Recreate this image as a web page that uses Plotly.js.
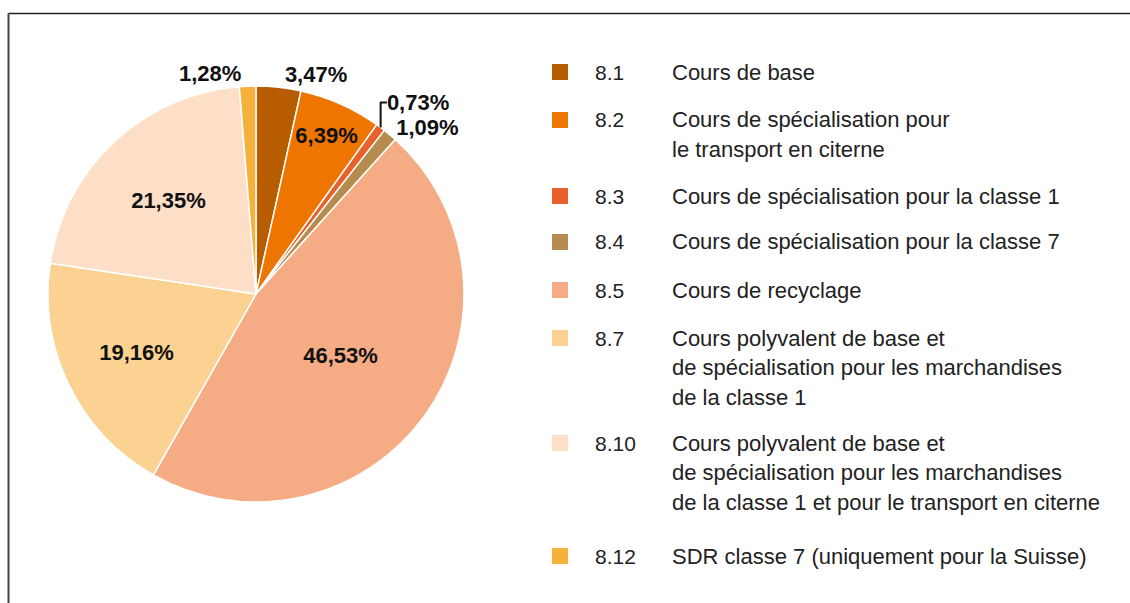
<!DOCTYPE html>
<html>
<head>
<meta charset="utf-8">
<script src="https://cdn.plot.ly/plotly-3.0.1.min.js"></script>
<style>
  html, body { margin: 0; padding: 0; background: #fff; }
  #chart { width: 1130px; height: 603px; }
</style>
</head>
<body>
<div id="chart"></div>
<script>
// share of courses by type (%)
var codes = ["8.1", "8.2", "8.3", "8.4", "8.5", "8.7", "8.10", "8.12"];
var shares = [3.47, 6.39, 0.73, 1.09, 46.53, 19.16, 21.35, 1.28];
var colors = ["#B85C00", "#EE7600", "#E8602A", "#B58B4E", "#F5AC84", "#FBD291", "#FCDFC6", "#F6B03C"];
var labelPos = ["outside", "inside", "outside", "outside", "inside", "inside", "inside", "outside"];
var courseLines = [
  ["Cours de base"],
  ["Cours de spécialisation pour", "le transport en citerne"],
  ["Cours de spécialisation pour la classe 1"],
  ["Cours de spécialisation pour la classe 7"],
  ["Cours de recyclage"],
  ["Cours polyvalent de base et", "de spécialisation pour les marchandises", "de la classe 1"],
  ["Cours polyvalent de base et", "de spécialisation pour les marchandises", "de la classe 1 et pour le transport en citerne"],
  ["SDR classe 7 (uniquement pour la Suisse)"]
];

var W = 1130, H = 603;
var font = "Liberation Sans, Arial, sans-serif";
var rowTop = [72, 120, 196, 242, 290, 338, 443, 556]; // legend row positions (px)
var lineGap = 29.5;

var pctText = shares.map(function (v) { return v.toFixed(2).replace(".", ",") + "%"; });

var trace = {
  type: "pie",
  values: shares,
  labels: codes,
  text: pctText,
  textinfo: "text",
  textposition: labelPos,
  insidetextorientation: "horizontal",
  sort: false,
  direction: "clockwise",
  rotation: 0,
  marker: { colors: colors, line: { color: "#ffffff", width: 1.5 } },
  textfont: { family: font, size: 22, color: "#111", weight: "bold" },
  hoverinfo: "none",
  showlegend: false,
  domain: { x: [48 / W, 464 / W], y: [100 / H, 518 / H] }
};

// custom legend: square, code, wrapped text
var shapes = [];
var annotations = [];
for (var i = 0; i < codes.length; i++) {
  var y = rowTop[i];
  shapes.push({
    type: "rect", xref: "paper", yref: "paper",
    x0: 552 / W, x1: 568 / W, y0: 1 - (y - 8) / H, y1: 1 - (y + 8) / H,
    fillcolor: colors[i], line: { width: 0 }
  });
  annotations.push({
    xref: "paper", yref: "paper", x: 593 / W, y: 1 - y / H,
    xanchor: "left", yanchor: "middle", showarrow: false,
    text: codes[i], font: { family: font, size: 21, color: "#222" }
  });
  for (var j = 0; j < courseLines[i].length; j++) {
    annotations.push({
      xref: "paper", yref: "paper", x: 670 / W, y: 1 - (y + j * lineGap) / H,
      xanchor: "left", yanchor: "middle", showarrow: false,
      text: courseLines[i][j], font: { family: font, size: 22, color: "#222" }
    });
  }
}

// frame lines (top and left)
shapes.push({ type: "line", xref: "paper", yref: "paper", x0: 8.5 / W, x1: 1, y0: 1 - 13.5 / H, y1: 1 - 13.5 / H, line: { color: "#222", width: 1.5 } });
shapes.push({ type: "line", xref: "paper", yref: "paper", x0: 8.5 / W, x1: 8.5 / W, y0: 1 - 13.5 / H, y1: 0, line: { color: "#444", width: 2 } });

var layout = {
  width: W,
  height: H,
  margin: { l: 0, r: 0, t: 0, b: 0 },
  paper_bgcolor: "#ffffff",
  showlegend: false,
  shapes: shapes,
  annotations: annotations
};

Plotly.newPlot("chart", [trace], layout, { staticPlot: true });
</script>
</body>
</html>
